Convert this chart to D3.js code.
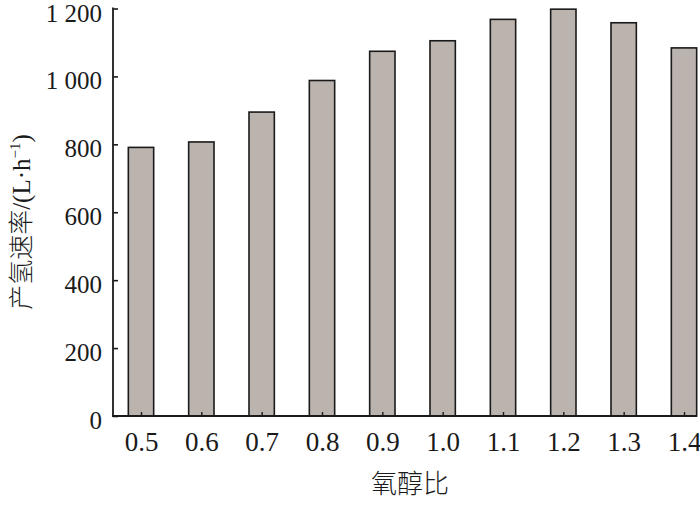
<!DOCTYPE html>
<html><head><meta charset="utf-8">
<script src="https://cdn.jsdelivr.net/npm/d3@7"></script>
<style>
html,body{margin:0;padding:0;background:#fff;}
svg{display:block;}
</style></head>
<body>
<svg id="chart" width="700" height="509"></svg>
<script>
const categories = ["0.5","0.6","0.7","0.8","0.9","1.0","1.1","1.2","1.3","1.4"];
const rates = [791, 807, 895, 988, 1074, 1105, 1168, 1198, 1158, 1084];
const yTicks = [0, 200, 400, 600, 800, 1000, 1200];
const yTickLabels = ["0","200","400","600","800","1 000","1 200"];
const xTitle = "氧醇比";
const yTitleMain = "产氢速率";
const yTitleUnit = "/(L·h";
const yTitleSup = "−1";
const yTitleEnd = ")";

const svg = d3.select("#chart");
const serif = "'Liberation Serif','Times New Roman',serif";
const cjk = "'Noto Sans CJK SC',sans-serif";
const ink = "#1a1a1a";

const x0 = 113, xEnd = 697, yBottom = 416, yTop = 8.5;
const x = d3.scalePoint().domain(categories).range([141, 684]);
const y = d3.scaleLinear().domain([0, 1200]).range([yBottom, yTop]);
const bw = x.step() * 0.42;

// bars
svg.append("g").selectAll("rect").data(categories).join("rect")
  .attr("x", d => x(d) - bw/2)
  .attr("y", (d,i) => y(rates[i]))
  .attr("width", bw)
  .attr("height", (d,i) => yBottom - y(rates[i]))
  .attr("fill", "#bbb3ae")
  .attr("stroke", ink)
  .attr("stroke-width", 1.6);

// y axis
const yAxis = d3.axisLeft(y).tickValues(yTicks)
  .tickFormat((d,i) => yTickLabels[i]).tickSize(-5).tickPadding(11);
const gy = svg.append("g").attr("transform", `translate(${x0},0)`).call(yAxis);
gy.select(".domain").remove();
gy.selectAll(".tick line").attr("stroke", ink).attr("stroke-width", 1.6);
gy.selectAll(".tick text").attr("font-family", serif).attr("font-size", 25).attr("fill", ink).attr("dy", "0.5em");
svg.append("line").attr("x1", x0).attr("x2", x0).attr("y1", yTop - 1).attr("y2", yBottom + 0.8)
  .attr("stroke", ink).attr("stroke-width", 1.8);

// x axis
const xAxis = d3.axisBottom(x).tickSize(-4);
const gx = svg.append("g").attr("transform", `translate(0,${yBottom})`).call(xAxis);
gx.select(".domain").remove();
gx.selectAll(".tick line").attr("stroke", ink).attr("stroke-width", 1.4);
gx.selectAll(".tick text").attr("font-family", serif).attr("font-size", 27).attr("fill", ink)
  .attr("y", 34.5).attr("dy", 0);
svg.append("line").attr("x1", x0 - 0.9).attr("x2", xEnd).attr("y1", yBottom).attr("y2", yBottom)
  .attr("stroke", ink).attr("stroke-width", 1.8);

// x title
svg.append("text").attr("x", 410).attr("y", 493).attr("text-anchor", "middle")
  .attr("font-family", cjk).attr("font-weight", 300).attr("font-size", 26).attr("fill", ink)
  .text(xTitle);

// y title
const yt = svg.append("text").attr("transform", "translate(30,222) rotate(-90)")
  .attr("text-anchor", "middle").attr("font-size", 25).attr("fill", ink);
yt.append("tspan").attr("font-family", cjk).attr("font-weight", 300).text(yTitleMain);
yt.append("tspan").attr("font-family", serif).text(yTitleUnit);
yt.append("tspan").attr("font-family", serif).attr("font-size", 15).attr("dy", -10).text(yTitleSup);
yt.append("tspan").attr("font-family", serif).attr("dy", 10).text(yTitleEnd);
</script>
</body></html>
